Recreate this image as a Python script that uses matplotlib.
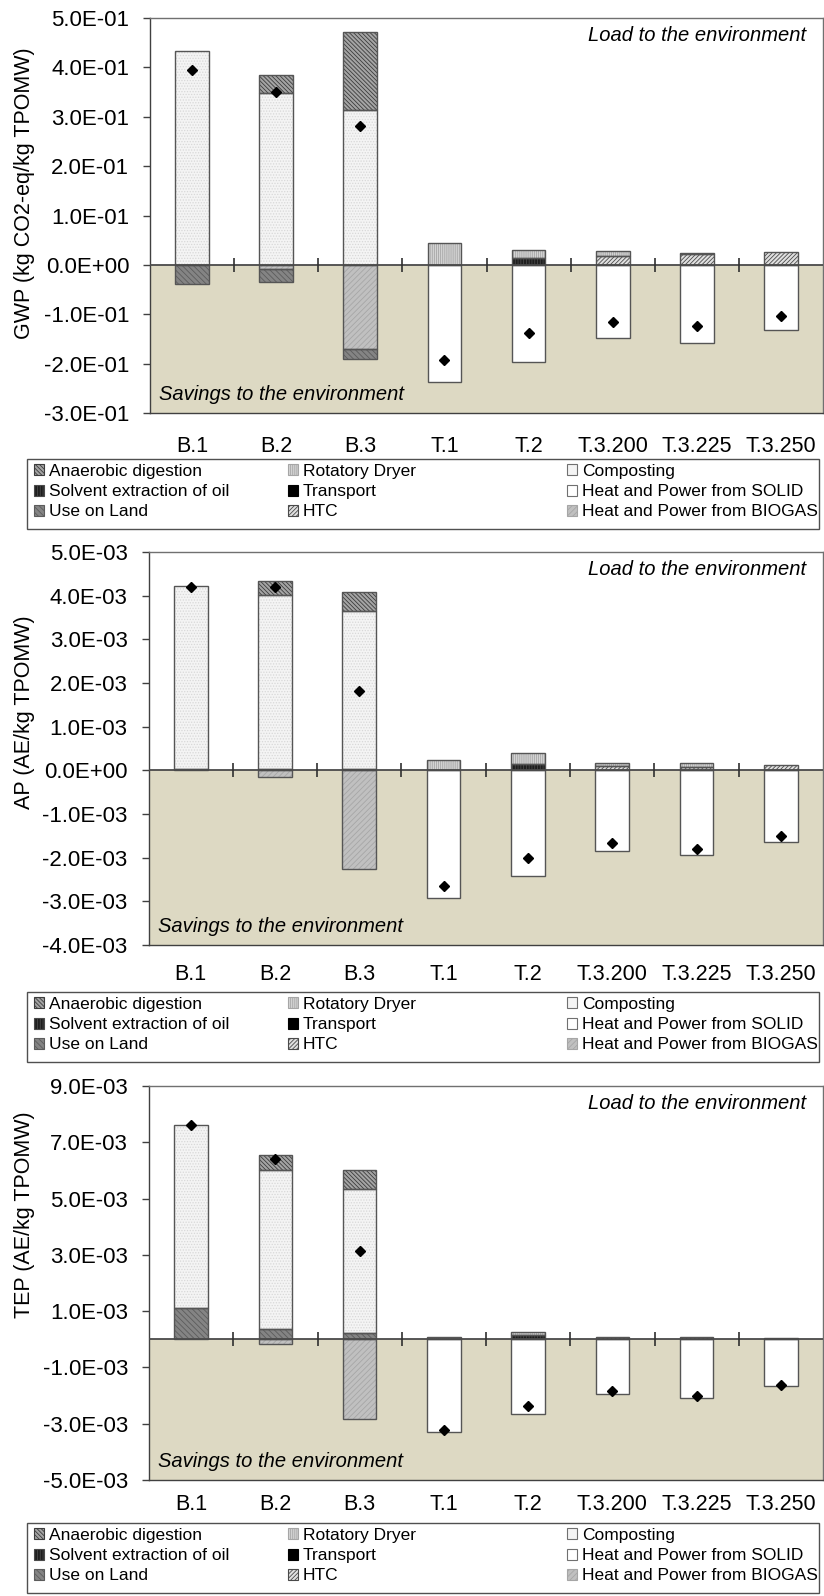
import numpy as np
import matplotlib
matplotlib.use('Agg')
import matplotlib.pyplot as plt
from matplotlib.patches import Patch, Rectangle
from matplotlib.ticker import FixedLocator, FuncFormatter

plt.rcParams['font.family'] = ['Liberation Sans', 'DejaVu Sans']
plt.rcParams['hatch.linewidth'] = 0.6

categories = ['B.1', 'B.2', 'B.3', 'T.1', 'T.2', 'T.3.200', 'T.3.225', 'T.3.250']

# ---- GWP (kg CO2-eq/kg TPOMW) ----
gwp_anaerobic = [0, 0.035, 0.158, 0, 0, 0, 0, 0]
gwp_dryer = [0, 0, 0, 0.045, 0.017, 0.012, 0.003, 0]
gwp_composting = [0.433, 0.349, 0.314, 0, 0, 0, 0, 0]
gwp_solvent = [0, 0, 0, 0, 0.014, 0, 0, 0]
gwp_transport = [0, 0, 0, 0, 0, 0, 0, 0]
gwp_solid = [0, 0, 0, -0.238, -0.197, -0.148, -0.159, -0.132]
gwp_land = [-0.039, -0.025, -0.021, 0, 0, 0, 0, 0]
gwp_htc = [0, 0, 0, 0, 0, 0.017, 0.022, 0.027]
gwp_biogas = [0, -0.009, -0.170, 0, 0, 0, 0, 0]
gwp_net = [0.394, 0.351, 0.281, -0.193, -0.137, -0.116, -0.123, -0.104]

# ---- AP (AE/kg TPOMW) ----
ap_anaerobic = [0, 0.33e-3, 0.42e-3, 0, 0, 0, 0, 0]
ap_dryer = [0, 0, 0, 0.245e-3, 0.245e-3, 0.08e-3, 0.08e-3, 0]
ap_composting = [4.18e-3, 3.97e-3, 3.64e-3, 0, 0, 0, 0, 0]
ap_solvent = [0, 0, 0, 0, 0.145e-3, 0, 0, 0]
ap_transport = [0, 0, 0, 0, 0, 0, 0, 0]
ap_solid = [0, 0, 0, -2.93e-3, -2.41e-3, -1.85e-3, -1.95e-3, -1.64e-3]
ap_land = [0.03e-3, 0.04e-3, 0.02e-3, 0, 0, 0, 0, 0]
ap_htc = [0, 0, 0, 0, 0, 0.09e-3, 0.08e-3, 0.12e-3]
ap_biogas = [0, -0.145e-3, -2.26e-3, 0, 0, 0, 0, 0]
ap_net = [4.20e-3, 4.19e-3, 1.82e-3, -2.66e-3, -2.00e-3, -1.67e-3, -1.80e-3, -1.51e-3]

# ---- TEP (AE/kg TPOMW) ----
tep_anaerobic = [0, 0.54e-3, 0.66e-3, 0, 0, 0, 0, 0]
tep_dryer = [0, 0, 0, 0.07e-3, 0.10e-3, 0, 0, 0]
tep_composting = [6.49e-3, 5.645e-3, 5.14e-3, 0, 0, 0, 0, 0]
tep_solvent = [0, 0, 0, 0, 0.16e-3, 0, 0, 0]
tep_transport = [0, 0, 0, 0, 0, 0, 0, 0]
tep_solid = [0, 0, 0, -3.31e-3, -2.66e-3, -1.93e-3, -2.08e-3, -1.67e-3]
tep_land = [1.11e-3, 0.355e-3, 0.21e-3, 0, 0, 0, 0, 0]
tep_htc = [0, 0, 0, 0, 0, 0.08e-3, 0.08e-3, 0.06e-3]
tep_biogas = [0, -0.17e-3, -2.84e-3, 0, 0, 0, 0, 0]
tep_net = [7.60e-3, 6.39e-3, 3.15e-3, -3.21e-3, -2.36e-3, -1.84e-3, -2.00e-3, -1.62e-3]

AD, DRY, COMP = 'Anaerobic digestion', 'Rotatory Dryer', 'Composting'
SOLV, TRANS, SOLID = 'Solvent extraction of oil', 'Transport', 'Heat and Power from SOLID'
LAND, HTC, BIOGAS = 'Use on Land', 'HTC', 'Heat and Power from BIOGAS'

# face colour, hatch, hatch colour
styles = {
    AD: ('#a4a4a4', '\\' * 8, '#3c3c3c'),
    DRY: ('#d4d4d4', '|' * 8, '#a6a6a6'),
    COMP: ('#f4f4f4', '.' * 6, '#d8d8d8'),
    SOLV: ('#1e1e1e', '|' * 6, '#4a4a4a'),
    TRANS: ('#000000', None, '#000000'),
    SOLID: ('#ffffff', None, '#ffffff'),
    LAND: ('#848484', '\\' * 6, '#5c5c5c'),
    HTC: ('#e0e0e0', '/' * 8, '#4a4a4a'),
    BIOGAS: ('#c0c0c0', '/' * 6, '#a6a6a6'),
}
stack_order = [BIOGAS, LAND, COMP, AD, SOLV, TRANS, HTC, DRY, SOLID]
legend_columns = [[AD, SOLV, LAND], [DRY, TRANS, HTC], [COMP, SOLID, BIOGAS]]

panels = [
    dict(series={AD: gwp_anaerobic, DRY: gwp_dryer, COMP: gwp_composting, SOLV: gwp_solvent,
                 TRANS: gwp_transport, SOLID: gwp_solid, LAND: gwp_land, HTC: gwp_htc,
                 BIOGAS: gwp_biogas},
         net=gwp_net, ylabel='GWP (kg CO2-eq/kg TPOMW)',
         ticks=[-0.3, -0.2, -0.1, 0.0, 0.1, 0.2, 0.3, 0.4, 0.5], ylim=(-0.3, 0.5),
         box=(150, 18, 823, 413), ylab_y=193, cat_y=446, legend_box=(459, 529)),
    dict(series={AD: ap_anaerobic, DRY: ap_dryer, COMP: ap_composting, SOLV: ap_solvent,
                 TRANS: ap_transport, SOLID: ap_solid, LAND: ap_land, HTC: ap_htc,
                 BIOGAS: ap_biogas},
         net=ap_net, ylabel='AP (AE/kg TPOMW)',
         ticks=[-4e-3, -3e-3, -2e-3, -1e-3, 0.0, 1e-3, 2e-3, 3e-3, 4e-3, 5e-3], ylim=(-4e-3, 5e-3),
         box=(148.5, 552, 823, 945), ylab_y=712, cat_y=975, legend_box=(992, 1062)),
    dict(series={AD: tep_anaerobic, DRY: tep_dryer, COMP: tep_composting, SOLV: tep_solvent,
                 TRANS: tep_transport, SOLID: tep_solid, LAND: tep_land, HTC: tep_htc,
                 BIOGAS: tep_biogas},
         net=tep_net, ylabel='TEP (AE/kg TPOMW)',
         ticks=[-5e-3, -3e-3, -1e-3, 1e-3, 3e-3, 5e-3, 7e-3, 9e-3], ylim=(-5e-3, 9e-3),
         box=(149, 1086, 823, 1480), ylab_y=1215, cat_y=1505, legend_box=(1523, 1593)),
]

W, H = 824, 1596
fig = plt.figure(figsize=(W / 100, H / 100), dpi=100)

OUTLINE = '#555555'
TAN = '#ddd9c3'
x = np.arange(len(categories))

for p in panels:
    l, t, r, b = p['box']
    ax = fig.add_axes([l / W, 1 - b / H, (r - l) / W, (b - t) / H])
    ax.set_xlim(-0.5, len(categories) - 0.5)
    ax.set_ylim(*p['ylim'])
    ax.axhspan(p['ylim'][0], 0, color=TAN, zorder=0, lw=0)

    pos_base = np.zeros(len(categories))
    neg_base = np.zeros(len(categories))
    for name in stack_order:
        vals = np.asarray(p['series'][name], dtype=float)
        pos = np.where(vals > 0, vals, 0.0)
        neg = np.where(vals < 0, vals, 0.0)
        face, hatch, hc = styles[name]
        for part, base in ((pos, pos_base), (neg, neg_base)):
            m = part != 0
            if not m.any():
                continue
            ax.bar(x[m], part[m], bottom=base[m], width=0.4, color=face,
                   hatch=hatch, edgecolor=hc, linewidth=0, zorder=2)
            ax.bar(x[m], part[m], bottom=base[m], width=0.4, fill=False,
                   edgecolor=OUTLINE, linewidth=1.0, zorder=3)
        pos_base += pos
        neg_base += neg

    # zero axis with category separators
    ax.axhline(0, color='#4a4a4a', lw=1.3, zorder=4)
    ax.plot(x[:-1] + 0.5, np.zeros(len(x) - 1), ls='none', marker='|', ms=10,
            mew=1.2, color='#303030', zorder=4)

    # net impact markers
    ax.plot(x, p['net'], ls='none', marker='D', ms=4.6, color='black', zorder=6)

    ax.yaxis.set_major_locator(FixedLocator(p['ticks']))
    ax.yaxis.set_major_formatter(FuncFormatter(lambda v, pos: f"{v:.1E}"))
    ax.tick_params(axis='y', direction='out', length=5, width=1, color='#404040',
                   pad=10, labelsize=16)
    ax.set_xticks([])
    for side in ('left', 'bottom'):
        ax.spines[side].set_color('#404040')
        ax.spines[side].set_linewidth(1.0)
    for side in ('top', 'right'):
        ax.spines[side].set_color('#707070')
        ax.spines[side].set_linewidth(1.0)

    # category labels under the plot area
    hpx = b - t
    for xi, cat in zip(x, categories):
        ax.text(xi, -(p['cat_y'] - b) / hpx, cat, transform=ax.get_xaxis_transform(),
                ha='center', va='center', fontsize=15.5)

    ax.annotate('Load to the environment', xy=(1, 1), xycoords='axes fraction',
                xytext=(-12.5, -12.5), textcoords='offset points', ha='right',
                va='center', style='italic', fontsize=14.5)
    ax.annotate('Savings to the environment', xy=(0, 0), xycoords='axes fraction',
                xytext=(6.5, 13.5), textcoords='offset points', ha='left',
                va='center', style='italic', fontsize=14.5)

    fig.text(25 / W, 1 - p['ylab_y'] / H, p['ylabel'], rotation=90, ha='center',
             va='center', fontsize=15.5)

    # legend: framed box with three columns
    lt, lb = p['legend_box']
    fig.patches.append(Rectangle((27 / W, 1 - lb / H), (819 - 27) / W, (lb - lt) / H,
                                 transform=fig.transFigure, fill=False,
                                 edgecolor='#505050', lw=1.0, zorder=5))
    for col_x, names in zip((34, 288, 567), legend_columns):
        handles = []
        for name in names:
            face, hatch, hc = styles[name]
            if name in (COMP, SOLID):
                handles.append(Patch(facecolor=face, edgecolor='#707070', lw=0.8))
            else:
                handles.append(Patch(facecolor=face, edgecolor=hc, hatch=hatch, lw=0.8))
        fig.legend(handles, names, loc='upper left',
                   bbox_to_anchor=(col_x / W, 1 - (lt + 5) / H),
                   frameon=False, fontsize=12.5, handlelength=0.6, handleheight=0.6,
                   handletextpad=0.25, labelspacing=0.3, borderpad=0, borderaxespad=0)

fig.savefig('out.png', dpi=100)
